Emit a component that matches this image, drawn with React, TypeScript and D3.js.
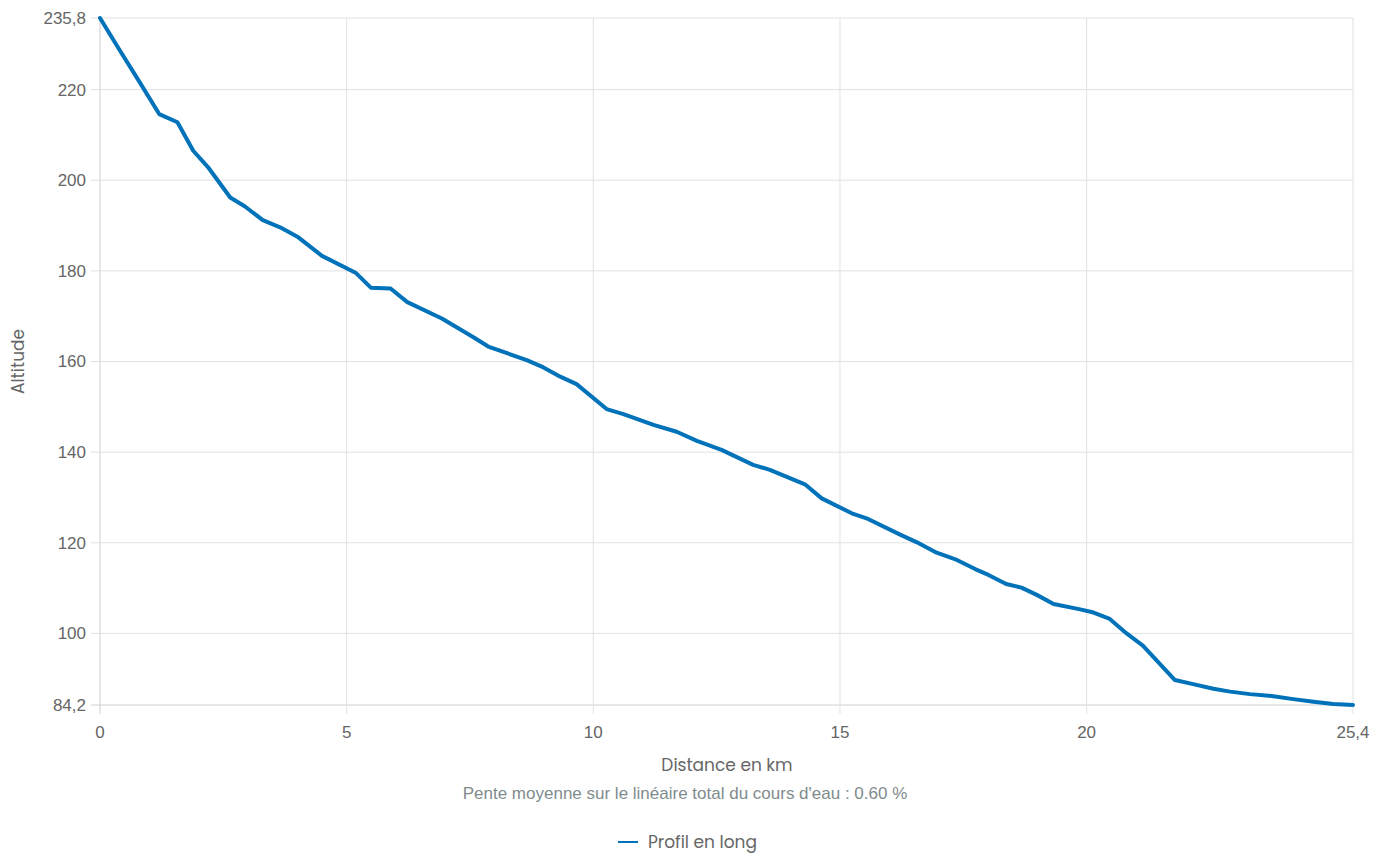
import React from "react";
import * as d3 from "d3";

const distances = [0, 0.4, 0.8, 1.2, 1.57, 1.89, 2.21, 2.64, 2.94, 3.3, 3.65, 4.02, 4.5, 5.18, 5.49, 5.89, 6.23, 6.93, 7.57, 7.87, 8.65, 8.99, 9.33, 9.66, 10.27, 10.61, 11.22, 11.69, 12.1, 12.6, 13.24, 13.58, 14.29, 14.63, 15.24, 15.57, 16.22, 16.56, 16.96, 17.37, 17.74, 18.01, 18.37, 18.68, 18.99, 19.33, 19.87, 20.14, 20.47, 20.81, 21.14, 21.79, 22.16, 22.57, 22.91, 23.31, 23.75, 24.19, 24.6, 25.0, 25.4];
const altitudes = [235.8, 228.7, 221.7, 214.6, 212.8, 206.5, 202.6, 196.2, 194.2, 191.2, 189.6, 187.4, 183.3, 179.6, 176.3, 176.1, 173.1, 169.5, 165.35, 163.3, 160.3, 158.7, 156.65, 155.0, 149.5, 148.4, 146.0, 144.5, 142.5, 140.5, 137.2, 136.1, 132.9, 129.8, 126.5, 125.25, 121.8, 120.1, 117.8, 116.2, 114.2, 112.9, 110.9, 110.1, 108.5, 106.5, 105.3, 104.6, 103.2, 100.0, 97.3, 89.7, 88.8, 87.8, 87.15, 86.6, 86.2, 85.5, 84.9, 84.4, 84.2];

const xTicks = [0, 5, 10, 15, 20, 25.4];
const yTicks = [84.2, 100, 120, 140, 160, 180, 200, 220, 235.8];

const seriesName = "Profil en long";
const xTitle = "Distance en km";
const yTitle = "Altitude";
const subtitle = "Pente moyenne sur le linéaire total du cours d'eau : 0.60 %";

const W = 1389;
const H = 856;
const left = 100;
const right = 1353;
const top = 18;
const bottom = 705;

const fmt = (v: number) => String(v).replace(".", ",");

export default function App() {
  const x = d3.scaleLinear().domain([0, 25.4]).range([left, right]);
  const y = d3.scaleLinear().domain([84.2, 235.8]).range([bottom, top]);
  const pts: [number, number][] = distances.map((d, i) => [d, altitudes[i]]);
  const line = d3
    .line<[number, number]>()
    .x((p) => x(p[0]))
    .y((p) => y(p[1]));

  const tickFont = "'Liberation Sans', Arial, sans-serif";
  const titleFont = "Poppins, 'Open Sans', Lato, sans-serif";
  const gridColor = "#e1e1e1";

  return (
    <svg
      width={W}
      height={H}
      style={{ position: "absolute", left: 0, top: 0, background: "#fff" }}
    >
      {yTicks.map((t) => (
        <g key={"y" + t}>
          <line
            x1={left - 9}
            x2={right}
            y1={y(t)}
            y2={y(t)}
            stroke={t === 84.2 ? "#d0d0d0" : gridColor}
            strokeWidth={1}
          />
          <text
            x={left - 14}
            y={y(t)}
            dy="0.35em"
            textAnchor="end"
            fontFamily={tickFont}
            fontSize={17}
            fill="#666"
          >
            {fmt(t)}
          </text>
        </g>
      ))}
      {xTicks.map((t) => (
        <g key={"x" + t}>
          <line
            x1={x(t)}
            x2={x(t)}
            y1={top}
            y2={bottom + 9}
            stroke={t === 0 ? "#d0d0d0" : gridColor}
            strokeWidth={1}
          />
          <text
            x={x(t)}
            y={bottom + 33}
            textAnchor="middle"
            fontFamily={tickFont}
            fontSize={17}
            fill="#666"
          >
            {fmt(t)}
          </text>
        </g>
      ))}
      <path
        d={line(pts) || ""}
        fill="none"
        stroke="#0072b9"
        strokeWidth={4}
        strokeLinejoin="round"
        strokeLinecap="round"
      />
      <text
        transform={`translate(24, ${(top + bottom) / 2}) rotate(-90)`}
        textAnchor="middle"
        fontFamily={titleFont}
        fontSize={17}
        fill="#666"
      >
        {yTitle}
      </text>
      <text
        x={727}
        y={771}
        textAnchor="middle"
        fontFamily={titleFont}
        fontSize={17}
        fill="#666"
      >
        {xTitle}
      </text>
      <text
        x={685}
        y={799}
        textAnchor="middle"
        fontFamily={tickFont}
        fontSize={17}
        fill="#7f8c8d"
      >
        {subtitle}
      </text>
      <line x1={618} x2={638} y1={842} y2={842} stroke="#0072b9" strokeWidth={2} />
      <text
        x={648}
        y={848}
        fontFamily={titleFont}
        fontSize={17}
        fill="#666"
      >
        {seriesName}
      </text>
    </svg>
  );
}
